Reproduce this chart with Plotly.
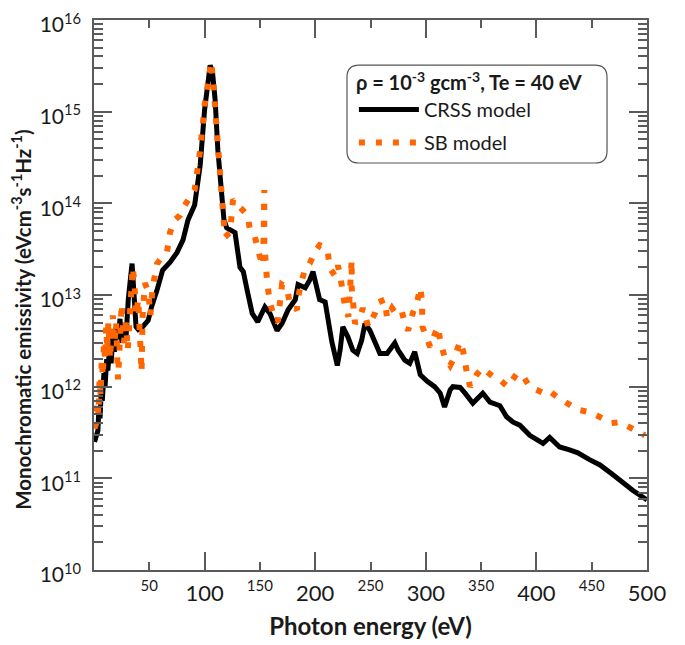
import plotly.graph_objects as go

# ---------------- data ----------------
crss_energy = [0.5, 2, 3.5, 4.5, 5.5, 6.5, 7.5, 9, 10, 11.5, 12.5, 14, 15.5, 17, 18.5, 20, 22, 23.5,
               25, 27, 29, 31, 33, 34.4, 36, 38, 40, 44, 49, 52, 57,
               62, 69, 75, 80.5, 85, 91, 96, 100, 103, 105, 107, 109.5, 112, 115, 117.5, 120, 125,
               127.5, 132, 135, 138, 143, 148, 154.5, 159, 165.5, 170, 175.5, 182, 184.5, 191, 195,
               198, 201.5, 204, 209, 211.5, 215, 220, 222.5, 225, 229.5, 234, 238, 242, 245, 249.5,
               254, 258.5, 265, 269.5, 272, 275, 281, 285.5, 290, 295, 301, 308, 313, 317, 322,
               324.5, 331, 335.5, 342.5, 351.5, 358, 367, 373, 379, 385, 394, 406, 412, 421, 430,
               437.5, 448, 457.5, 469, 478, 487, 500]
crss_value = [2.5e11, 2.8e11, 3.3e11, 6e11, 4.5e11, 9e11, 7e11, 1.4e12, 1e12, 2e12, 1.5e12, 2.6e12,
              1.8e12, 3.5e12, 2.4e12, 4.5e12, 3.3e12, 5.5e12, 3e12, 4.5e12, 3.5e12, 9e12, 1.6e13,
              2.2e13, 1.1e13, 4.5e12, 4.2e12, 4.5e12, 5.3e12, 7.4e12, 1.13e13, 1.86e13,
              2.3e13, 2.9e13, 4e13, 6.6e13, 9.6e13, 2.6e14, 1.05e15, 2.2e15, 3.2e15, 2.8e15,
              1.35e15, 3.8e14, 1.3e14, 6.6e13, 5.4e13, 5.1e13, 4.8e13, 2e13, 1.8e13, 1.2e13,
              6.3e12, 5.1e12, 7.4e12, 6.3e12, 4.1e12, 4.9e12, 6.9e12, 8.9e12, 1.3e13, 1.2e13,
              1.45e13, 1.8e13, 1.23e13, 8.9e12, 8.4e12, 5.6e12, 3.1e12, 1.7e12, 2.5e12, 4.5e12,
              3.5e12, 2.5e12, 2.3e12, 3.2e12, 4.9e12, 4.1e12, 3e12, 2.3e12, 2.3e12, 2.8e12, 3e12,
              2.5e12, 1.95e12, 1.8e12, 2.4e12, 1.35e12, 1.15e12, 1e12, 8.5e11, 6e11, 9.2e11, 1e12,
              9.8e11, 8.5e11, 6.6e11, 8.5e11, 6.8e11, 6.2e11, 4.7e11, 4.1e11, 3.8e11, 2.95e11,
              2.4e11, 2.8e11, 2.2e11, 2.04e11, 1.9e11, 1.6e11, 1.4e11, 1.1e11, 8.9e10, 7.4e10,
              5.8e10]

sb_energy = [0.5, 2, 3, 4, 5, 6, 7, 8, 9, 10, 11, 12, 13, 14.5, 16, 17, 18.5, 20, 21.7, 23, 25, 27,
             29, 30.5, 32, 33.5, 35, 36.5, 38, 40, 41.6, 43, 44, 46, 49, 51, 53, 57, 61.5, 66, 68.7,
             73, 77.8, 82, 91, 96, 100, 106, 107.6, 110, 113, 115.7,
             118.4, 123, 125.7, 130, 135, 139, 141, 145.5, 150, 153, 154, 154, 154, 156.5, 159,
             163.5, 166, 168, 170, 174.5, 177, 183.5, 184.5, 188, 191, 195, 200, 204, 209, 211.5,
             213, 218, 220.5, 222.5, 224, 227, 230, 233, 233, 234, 236, 240.5, 243, 248, 254, 257,
             263, 265, 269.5, 274, 278.5, 281, 284, 288.5, 292, 295, 296.5, 297, 301, 304, 308,
             311, 313, 317, 322, 326, 331, 333.6, 337, 340, 346, 351, 361, 365, 374, 379, 382.5,
             388, 394, 405, 410.5, 419.5, 428.5, 437.5, 450, 460, 468, 475.5, 484.5, 493.5, 498]
sb_value = [3.5e11, 4e11, 7e11, 5e11, 1.2e12, 8e11, 2e12, 1.3e12, 3e12, 2e12, 4.5e12, 2.5e12, 5e12,
            2e12, 4e12, 6e12, 3e12, 5e12, 1.2e12, 4e12, 8e12, 3e12, 5e12, 2.5e12, 6e12, 1.3e13,
            2.0e13, 1.4e13, 6e12, 9e12, 3e12, 1.45e12, 6e12, 1.35e13, 1.1e13, 6e12, 1.2e13,
            2.2e13, 2.6e13, 2.95e13, 4.8e13, 6.6e13, 7.4e13, 9.5e13, 1.4e14, 3.8e14, 1.17e15, 3.5e15,
            2.2e15, 9.1e14, 2.95e14, 1e14, 4.3e13, 4.8e13, 1.1e14, 9.6e13, 8.5e13, 7.4e13, 5.1e13,
            4.3e13, 2.6e13, 2.1e13, 1.4e14, 5.8e13, 3.7e13, 1.4e13, 8.3e12, 5.4e12, 5.1e12, 8.1e12,
            1.3e13, 1.2e13, 8.1e12, 6.9e12, 9.5e12, 1.45e13, 1.95e13, 2.2e13, 3e13, 3.5e13, 3.3e13,
            2.9e13, 2e13, 1.6e13, 2.1e13, 1.65e13, 1.2e13, 7.4e12, 5.8e12, 2.4e13, 1.2e13, 8.9e12,
            4.9e12, 5.8e12, 7.2e12, 4.5e12, 6.3e12, 8.3e12, 8.9e12, 5.6e12, 7.2e12, 6e12, 6.5e12,
            4.9e12, 4.1e12, 6.5e12, 8.3e12, 1.2e13, 8.9e12, 4.5e12, 3.4e12, 2.7e12, 3.7e12, 4.5e12,
            3.2e12, 2.1e12, 1.7e12, 2.1e12, 3.1e12, 2.5e12, 1.45e12, 1e12, 1.35e12, 1.6e12, 1.28e12,
            1.24e12, 1e12, 1.24e12, 1.4e12, 1.3e12, 1e12, 8.7e11, 9.2e11, 7.6e11, 6.6e11, 5.6e11,
            5.2e11, 4.4e11, 4e11, 4.1e11, 3.6e11, 3.1e11, 2.95e11]

major_x_ticks = [100, 200, 300, 400, 500]
minor_x_ticks = [50, 150, 250, 350, 450]
y_tick_exponents = [10, 11, 12, 13, 14, 15, 16]
y_minor_ticks = [m * 10 ** e for e in range(10, 16) for m in range(2, 10)]

FONT = "Lato"
TXT = "#1a1a1a"
AX = "#5a5a5a"

fig = go.Figure()
fig.add_trace(go.Scatter(x=crss_energy, y=crss_value, mode="lines", name="CRSS model",
                         legendgroup="a",
                         line=dict(color="black", width=5), xaxis="x", yaxis="y"))
fig.add_trace(go.Scatter(x=sb_energy, y=sb_value, mode="lines", name="SB model",
                         legendgroup="b",
                         line=dict(color="#ff6600", width=6, dash="6px,11px"), xaxis="x", yaxis="y"))
# invisible helper trace so the secondary x axis (50, 150, ... labels) is drawn
fig.add_trace(go.Scatter(x=minor_x_ticks, y=[None] * len(minor_x_ticks), mode="lines",
                         xaxis="x2", yaxis="y", showlegend=False, hoverinfo="skip"))

# the page body adds an 8px margin, so the figure is 8px smaller than the window
fig.update_layout(
    width=677, height=637,
    margin=dict(l=86, r=38, t=12, b=75),
    paper_bgcolor="white", plot_bgcolor="white",
    font=dict(family=FONT, color=TXT),
    xaxis=dict(
        range=[0, 500], tickmode="array", tickvals=major_x_ticks,
        ticktext=[str(v) for v in major_x_ticks], automargin=False,
        ticks="inside", ticklen=18, tickwidth=1.5, tickcolor=AX,
        showline=True, linecolor=AX, linewidth=1.5, mirror="ticks",
        showgrid=False, zeroline=False, ticklabeloverflow="allow",
        tickfont=dict(size=22, family=FONT, color=TXT), ticklabelstandoff=3,
        title=dict(text="<b>Photon energy (eV)</b>", font=dict(size=24, family=FONT, color=TXT),
                   standoff=13),
    ),
    xaxis2=dict(
        overlaying="x", anchor="y", side="bottom", automargin=False,
        range=[0, 500], tickmode="array", tickvals=minor_x_ticks,
        ticktext=[str(v) for v in minor_x_ticks], ticklabeloverflow="allow",
        ticks="inside", ticklen=8, tickwidth=1.5, tickcolor=AX,
        showline=False, mirror="ticks", showgrid=False, zeroline=False,
        tickfont=dict(size=15, family=FONT, color=TXT), ticklabelstandoff=5,
    ),
    yaxis=dict(
        type="log", range=[10, 16], tickmode="array", automargin=False,
        tickvals=[10 ** e for e in y_tick_exponents],
        ticktext=["10<sup>%d</sup>" % e for e in y_tick_exponents],
        ticklabeloverflow="allow", ticklabelshift=5,
        ticks="inside", ticklen=18, tickwidth=1.5, tickcolor=AX,
        minor=dict(tickmode="array", tickvals=y_minor_ticks, ticks="inside", ticklen=9,
                   tickwidth=1.5, tickcolor=AX, showgrid=False),
        showline=True, linecolor=AX, linewidth=1.5, mirror="ticks",
        showgrid=False, zeroline=False,
        tickfont=dict(size=21, family=FONT, color=TXT), ticklabelstandoff=7,
    ),
    legend=dict(
        x=0.47, y=0.92, xanchor="left", yanchor="top",
        bgcolor="rgba(0,0,0,0)", borderwidth=0,
        font=dict(size=20, family=FONT, color=TXT),
        title=dict(text="<b>ρ = 10<sup>-3</sup> gcm<sup>-3</sup>, Te = 40 eV</b>",
                   font=dict(size=20, family=FONT, color=TXT), side="top"),
        itemwidth=60, tracegroupgap=4, traceorder="grouped",
    ),
    showlegend=True,
)

# y-axis title (placed as an annotation so it can sit slightly below the plot centre, as in the original)
fig.add_annotation(
    text="<b>Monochromatic emissivity (eVcm<sup>-3</sup>s<sup>-1</sup>Hz<sup>-1</sup>)</b>",
    xref="paper", yref="paper", x=-0.130, y=0.455, xanchor="center", yanchor="middle",
    textangle=-90, showarrow=False, font=dict(size=20.5, family=FONT, color=TXT),
)

# rounded legend frame (paper coordinates)
x0, x1, y0, y1 = 0.4575, 0.9277, 0.74, 0.918
rx, ry = 0.022, 0.022
path = (f"M {x0+rx},{y1} L {x1-rx},{y1} Q {x1},{y1} {x1},{y1-ry} "
        f"L {x1},{y0+ry} Q {x1},{y0} {x1-rx},{y0} L {x0+rx},{y0} "
        f"Q {x0},{y0} {x0},{y0+ry} L {x0},{y1-ry} Q {x0},{y1} {x0+rx},{y1} Z")
fig.add_shape(type="path", path=path, xref="paper", yref="paper",
              line=dict(color="#555555", width=1.2), fillcolor="rgba(0,0,0,0)")

fig.write_html("out.html")
